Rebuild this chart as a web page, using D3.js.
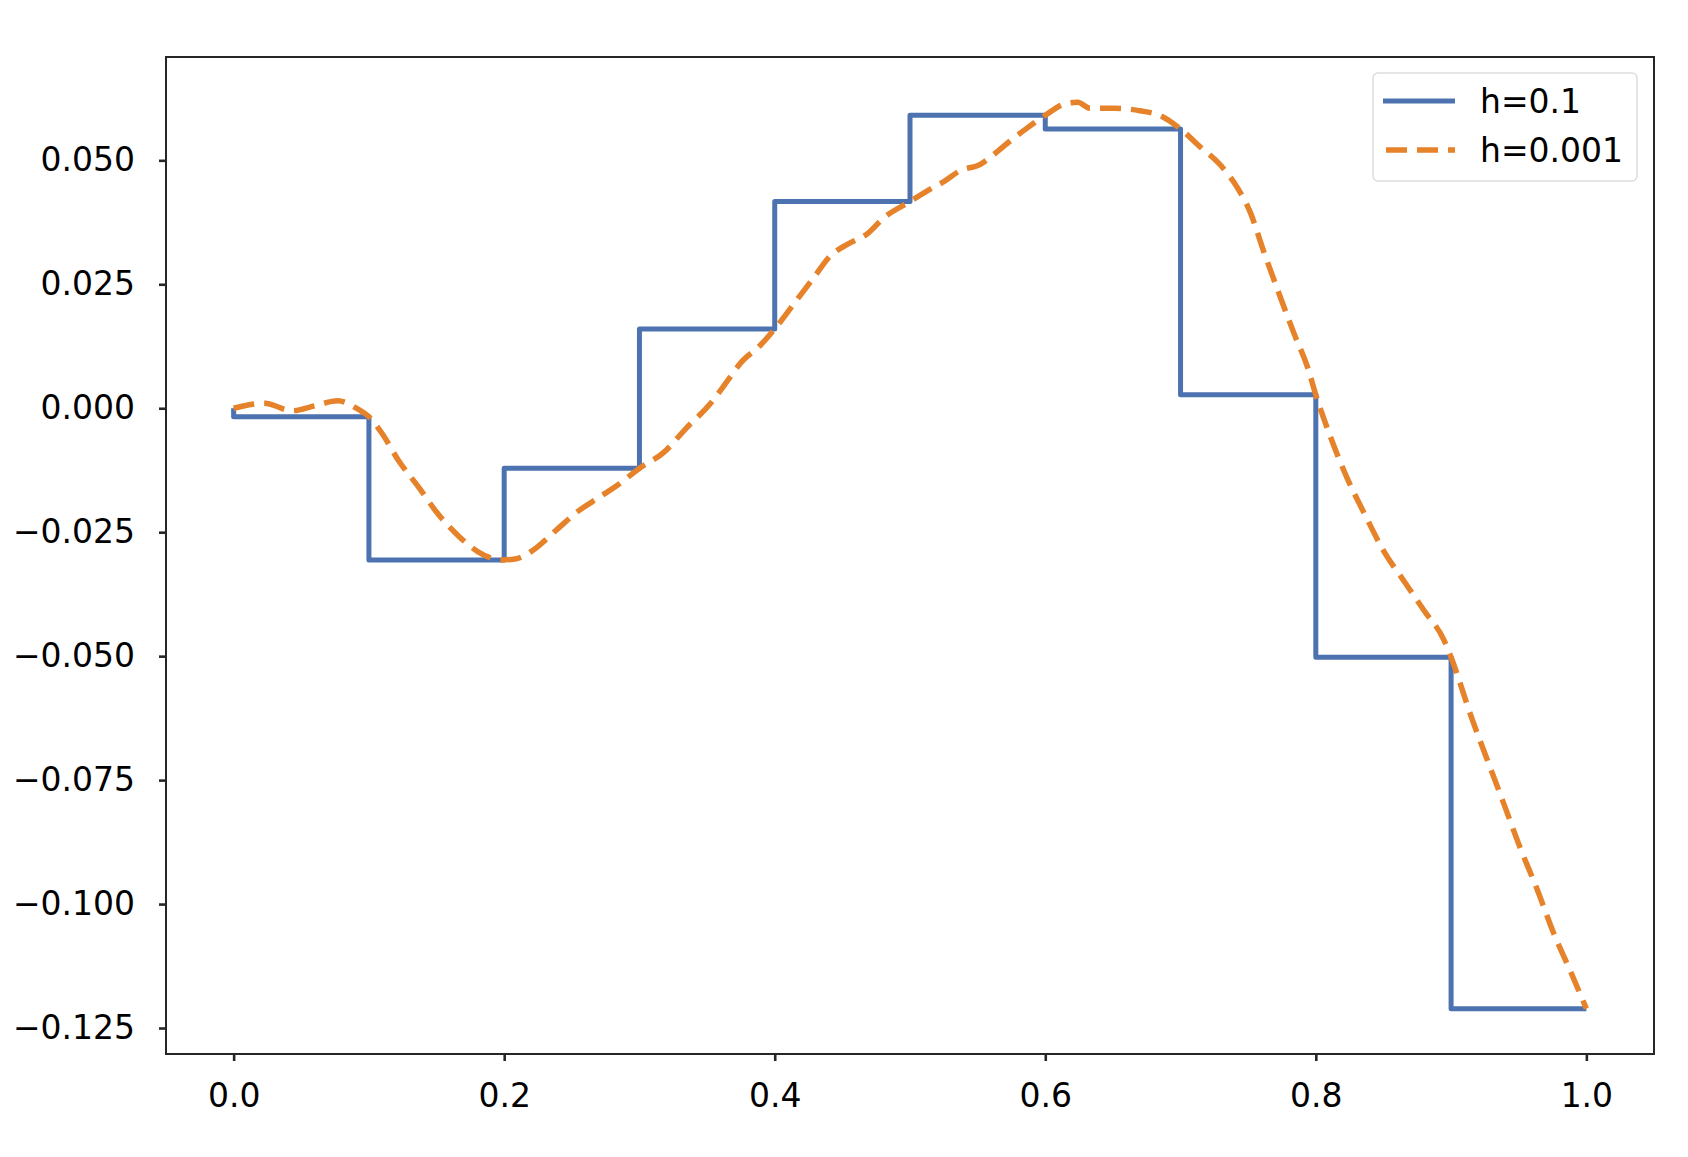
<!DOCTYPE html>
<html>
<head>
<meta charset="utf-8">
<script src="https://cdn.jsdelivr.net/npm/d3@7"></script>
<style>
  body { margin: 0; background: #fff; }
  svg { display: block; font-family: "DejaVu Sans", sans-serif; }
</style>
</head>
<body>
<svg id="chart"></svg>
<script>
/*
  Step solution (h=0.1) vs fine solution (h=0.001)
*/

// coarse solution, h=0.1
var coarseX = [0.0, 0.1, 0.2, 0.3, 0.4, 0.5, 0.6, 0.7, 0.8, 0.9, 1.0],
    coarseY = [0.0, -0.0017, -0.0306, -0.0121, 0.0160, 0.0417, 0.0591, 0.0563, 0.0027, -0.0502, -0.1211];

// fine solution, h=0.001
var fineX = [0.000, 0.023, 0.043, 0.060, 0.077, 0.092, 0.100, 0.110, 0.122, 0.137,
             0.151, 0.166, 0.181, 0.198, 0.208, 0.221, 0.238, 0.255, 0.270, 0.285,
             0.300, 0.318, 0.335, 0.352, 0.365, 0.375, 0.389, 0.400, 0.414, 0.429,
             0.441, 0.454, 0.468, 0.481, 0.500, 0.515, 0.525, 0.537, 0.552, 0.562,
             0.574, 0.587, 0.600, 0.616, 0.624, 0.633, 0.651, 0.670, 0.685, 0.700,
             0.715, 0.730, 0.742, 0.752, 0.761, 0.772, 0.784, 0.794, 0.800, 0.811,
             0.823, 0.836, 0.850, 0.865, 0.880, 0.895, 0.900, 0.915, 0.927, 0.939,
             0.951, 0.964, 0.976, 0.988, 1.000],
    fineY = [0.0000, 0.0010, -0.0005, 0.0005, 0.0015, -0.0002, -0.0017, -0.0052, -0.0106, -0.0160,
             -0.0213, -0.0257, -0.0290, -0.0306, -0.0304, -0.0287, -0.0247, -0.0207, -0.0180, -0.0153,
             -0.0121, -0.0089, -0.0039, 0.0008, 0.0055, 0.0092, 0.0126, 0.0160, 0.0210, 0.0264,
             0.0307, 0.0331, 0.0351, 0.0385, 0.0417, 0.0442, 0.0457, 0.0479, 0.0492, 0.0512,
             0.0539, 0.0566, 0.0591, 0.0615, 0.0617, 0.0605, 0.0605, 0.0600, 0.0590, 0.0563,
             0.0526, 0.0489, 0.0445, 0.0392, 0.0320, 0.0237, 0.0150, 0.0082, 0.0027, -0.0059,
             -0.0140, -0.0213, -0.0287, -0.0348, -0.0408, -0.0469, -0.0502, -0.0623, -0.0711, -0.0798,
             -0.0886, -0.0973, -0.1060, -0.1134, -0.1211];

var xTicks = [0.0, 0.2, 0.4, 0.6, 0.8, 1.0],
    yTicks = [-0.125, -0.100, -0.075, -0.050, -0.025, 0.000, 0.025, 0.050],
    seriesLabels = ["h=0.1", "h=0.001"],
    seriesColors = ["#4c72b0", "#e6822a"];

var W = 1688, H = 1157,
    margin = {top: 57, right: 34, bottom: 103, left: 166},
    width = W - margin.left - margin.right,
    height = H - margin.top - margin.bottom,
    fontSize = 33,
    axisColor = "#262626";

var coarse = coarseX.map(function(d, i){ return {x: d, y: coarseY[i]}; }),
    fine = fineX.map(function(d, i){ return {x: d, y: fineY[i]}; });

var svg = d3.select("#chart")
    .attr("width", W)
    .attr("height", H);

var g = svg.append("g")
    .attr("transform", "translate(" + margin.left + "," + margin.top + ")");

// matplotlib style 5% margins
var xExt = d3.extent(coarseX.concat(fineX)),
    yExt = d3.extent(coarseY.concat(fineY)),
    xPad = (xExt[1] - xExt[0]) * 0.05,
    yPad = (yExt[1] - yExt[0]) * 0.05;

var x = d3.scaleLinear().domain([xExt[0] - xPad, xExt[1] + xPad]).range([0, width]),
    y = d3.scaleLinear().domain([yExt[0] - yPad, yExt[1] + yPad]).range([height, 0]);

var minus = function(s){ return s.replace("-", "\u2212"); };

//Add x axis
var xAxis = g.append("g")
  .attr("transform", "translate(0," + height + ")")
  .call(d3.axisBottom(x).tickValues(xTicks).tickSize(7).tickPadding(23)
    .tickFormat(function(d){ return minus(d3.format(".1f")(d)); }));

//Add y axis
var yAxis = g.append("g")
  .call(d3.axisLeft(y).tickValues(yTicks).tickSize(7).tickPadding(24)
    .tickFormat(function(d){ return minus(d3.format(".3f")(d)); }));

[xAxis, yAxis].forEach(function(a){
  a.select(".domain").remove();
  a.selectAll(".tick line").attr("stroke", axisColor).attr("stroke-width", 2.6);
  a.selectAll(".tick text")
    .attr("fill", "#000")
    .style("font-family", "'DejaVu Sans', sans-serif")
    .style("font-size", fontSize + "px");
});

// lines
var line = d3.line()
    .x(function(d){ return x(d.x); })
    .y(function(d){ return y(d.y); });

g.append("path")
  .datum(coarse)
  .attr("fill", "none")
  .attr("stroke", seriesColors[0])
  .attr("stroke-width", 5)
  .attr("stroke-linejoin", "round")
  .attr("d", line.curve(d3.curveStepBefore));

g.append("path")
  .datum(fine)
  .attr("fill", "none")
  .attr("stroke", seriesColors[1])
  .attr("stroke-width", 5.5)
  .attr("stroke-dasharray", "21,10")
  .attr("d", line.curve(d3.curveMonotoneX));

// frame
g.append("rect")
  .attr("width", width)
  .attr("height", height)
  .attr("fill", "none")
  .attr("stroke", axisColor)
  .attr("stroke-width", 2);

//Legend
var legend = g.append("g")
  .attr("transform", "translate(" + (1373 - margin.left) + "," + (73 - margin.top) + ")");

legend.append("rect")
  .attr("width", 264)
  .attr("height", 108)
  .attr("rx", 5)
  .attr("fill", "#fff")
  .attr("fill-opacity", 0.8)
  .attr("stroke", "#dddddd")
  .attr("stroke-width", 1.5);

var items = legend.selectAll(".item")
  .data(seriesLabels)
  .enter().append("g")
    .attr("class", "item")
    .attr("transform", function(d, i){ return "translate(0," + (28 + i * 49) + ")"; });

items.append("line")
  .attr("x1", 10)
  .attr("x2", 82)
  .attr("stroke", function(d, i){ return seriesColors[i]; })
  .attr("stroke-width", function(d, i){ return i ? 5.5 : 5; })
  .attr("stroke-dasharray", function(d, i){ return i ? "21,10" : null; })
  .attr("stroke-dashoffset", function(d, i){ return i ? -3 : null; });

items.append("text")
  .attr("x", 107)
  .attr("y", 12)
  .style("font-size", fontSize + "px")
  .attr("fill", "#000")
  .text(function(d){ return d; });
</script>
</body>
</html>
